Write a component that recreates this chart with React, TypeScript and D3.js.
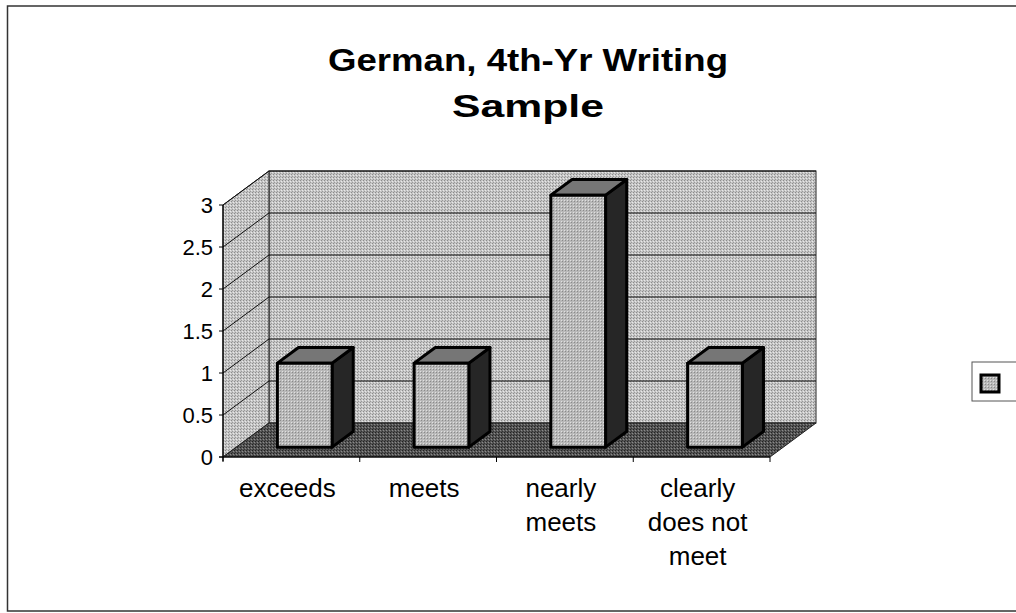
import React from 'react';
import * as d3 from 'd3';

const categories = ['exceeds', 'meets', 'nearly meets', 'clearly does not meet'];
const labelLines = [['exceeds'], ['meets'], ['nearly', 'meets'], ['clearly', 'does not', 'meet']];
const values = [1, 1, 3, 1];
const yTicks = [0, 0.5, 1, 1.5, 2, 2.5, 3];

const W = 1016;
const H = 613;
// depth offset of the 3D box (front -> back)
const DX = 46;
const DY = -34;
const FONT = '"Liberation Sans", Arial, Helvetica, sans-serif';

export default function App() {
  const x = d3.scaleBand<string>().domain(categories).range([223, 770]).paddingInner(0.6).paddingOuter(0.3);
  const xEdges = d3.scaleBand<string>().domain(categories).range([223, 770]);
  const y = d3.scaleLinear().domain([0, 3]).range([457, 205]);
  const fmt = d3.format('~g');

  const x0 = 223, x1 = 770;
  const yb = y(0), yt = y(3);
  const tFront = 0.29, tBack = 0.75;

  const floor = [[x0, yb], [x1, yb], [x1 + DX, yb + DY], [x0 + DX, yb + DY]];
  const side = [[x0, yb], [x0, yt], [x0 + DX, yt + DY], [x0 + DX, yb + DY]];
  const pts = (p: number[][]) => p.map(d => d.join(',')).join(' ');

  return (
    <svg width={W} height={H} style={{ position: 'absolute', left: 0, top: 0, background: '#fff' }}>
      <defs>
        <pattern id="wall" width="3" height="3" patternUnits="userSpaceOnUse">
          <rect width="3" height="3" fill="#c6c6c6" />
          <rect x="0" y="0" width="1" height="1" fill="#8c8c8c" />
          <rect x="2" y="1" width="1" height="1" fill="#e8e8e8" />
          <rect x="1" y="2" width="1" height="1" fill="#9a9a9a" />
        </pattern>
        <pattern id="floor" width="3" height="3" patternUnits="userSpaceOnUse">
          <rect width="3" height="3" fill="#555" />
          <rect x="0" y="0" width="1" height="1" fill="#222" />
          <rect x="2" y="1" width="1" height="1" fill="#8a8a8a" />
          <rect x="1" y="2" width="1" height="1" fill="#333" />
        </pattern>
        <pattern id="front" width="3" height="3" patternUnits="userSpaceOnUse">
          <rect width="3" height="3" fill="#b8b8b8" />
          <rect x="1" y="0" width="1" height="1" fill="#8a8a8a" />
          <rect x="0" y="2" width="1" height="1" fill="#e0e0e0" />
        </pattern>
      </defs>

      {/* outer frame */}
      <rect x={7.5} y={6} width={1020} height={605} fill="none" stroke="#333" strokeWidth={1.5} />

      {/* title */}
      <text x={528} y={71} textAnchor="middle" fontFamily={FONT} fontWeight="bold" fontSize={31}
        textLength={400} lengthAdjust="spacingAndGlyphs">German, 4th-Yr Writing</text>
      <text x={528} y={117} textAnchor="middle" fontFamily={FONT} fontWeight="bold" fontSize={31}
        textLength={152} lengthAdjust="spacingAndGlyphs">Sample</text>

      {/* walls */}
      <rect x={x0 + DX} y={yt + DY} width={x1 - x0} height={yb - yt} fill="url(#wall)" stroke="#222" strokeWidth={1} />
      <polygon points={pts(side)} fill="url(#wall)" stroke="#222" strokeWidth={1} />
      <polygon points={pts(floor)} fill="url(#floor)" stroke="#222" strokeWidth={1} />

      {/* gridlines */}
      {yTicks.filter(v => v > 0).map(v => (
        <g key={v}>
          <line x1={x0 + DX} x2={x1 + DX} y1={y(v) + DY} y2={y(v) + DY} stroke="#111" strokeWidth={1} />
          <line x1={x0} x2={x0 + DX} y1={y(v)} y2={y(v) + DY} stroke="#111" strokeWidth={1} />
        </g>
      ))}

      {/* bars */}
      {categories.map((c, i) => {
        const bx = (x(c) as number) + DX * tFront;
        const bw = x.bandwidth();
        const yBot = yb + DY * tFront;
        const yTop = y(values[i]) + DY * tFront;
        const ddx = DX * (tBack - tFront);
        const ddy = DY * (tBack - tFront);
        const top = [[bx, yTop], [bx + bw, yTop], [bx + bw + ddx, yTop + ddy], [bx + ddx, yTop + ddy]];
        const right = [[bx + bw, yTop], [bx + bw, yBot], [bx + bw + ddx, yBot + ddy], [bx + bw + ddx, yTop + ddy]];
        return (
          <g key={c} stroke="#000" strokeWidth={3} strokeLinejoin="round">
            <polygon points={pts(right)} fill="#262626" />
            <polygon points={pts(top)} fill="#767676" />
            <rect x={bx} y={yTop} width={bw} height={yBot - yTop} fill="url(#front)" />
          </g>
        );
      })}

      {/* axes */}
      <line x1={x0} x2={x0} y1={yt} y2={yb + 4} stroke="#000" strokeWidth={1.2} />
      <line x1={x0 - 4} x2={x1} y1={yb} y2={yb} stroke="#000" strokeWidth={1.2} />
      {yTicks.map(v => (
        <g key={v}>
          <line x1={x0 - 4} x2={x0} y1={y(v)} y2={y(v)} stroke="#000" strokeWidth={1} />
          <text x={213} y={y(v) + 8} textAnchor="end" fontFamily={FONT} fontSize={22}>{fmt(v)}</text>
        </g>
      ))}
      {categories.map(c => (
        <line key={c} x1={xEdges(c) as number} x2={xEdges(c) as number} y1={yb} y2={yb + 5} stroke="#000" strokeWidth={1} />
      ))}
      <line x1={x1} x2={x1} y1={yb} y2={yb + 5} stroke="#000" strokeWidth={1} />

      {/* category labels */}
      {categories.map((c, i) => {
        const cx = (xEdges(c) as number) + xEdges.bandwidth() / 2 - 4;
        return (
          <text key={c} x={cx} textAnchor="middle" fontFamily={FONT} fontSize={26}>
            {labelLines[i].map((l, j) => (
              <tspan key={j} x={cx} y={497 + j * 34}>{l}</tspan>
            ))}
          </text>
        );
      })}

      {/* legend */}
      <rect x={972} y={362} width={60} height={39} fill="#fff" stroke="#555" strokeWidth={1} />
      <rect x={981} y={375} width={18} height={17} fill="url(#front)" stroke="#000" strokeWidth={3} />
    </svg>
  );
}
